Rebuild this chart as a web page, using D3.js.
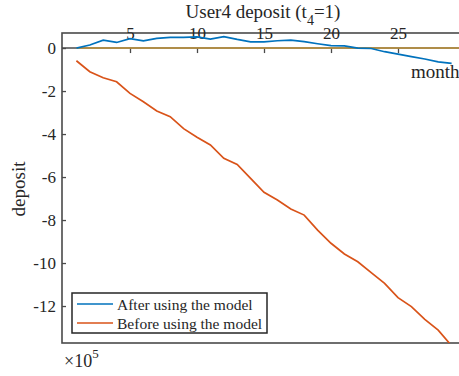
<!DOCTYPE html>
<html>
<head>
<meta charset="utf-8">
<style>
  body { margin: 0; background: #fff; }
  svg text { font-family: "Liberation Serif", "Times New Roman", serif; fill: #262626; }
</style>
</head>
<body>
<svg width="459" height="376"></svg>
<script src="https://d3js.org/d3.v7.min.js"></script>
<script>

    // months 1..29
    var months = d3.range(1, 30);
    var zeroMonths = d3.range(1, 31);

    // deposit values in units of 1e5
    var afterModel = [0, 0.14, 0.37, 0.26, 0.44, 0.33, 0.45, 0.5, 0.5, 0.52,
        0.42, 0.53, 0.4, 0.29, 0.29, 0.34, 0.37, 0.3, 0.2, 0.11,
        0.1, 0.0, -0.02, -0.17, -0.28, -0.4, -0.51, -0.64, -0.71];

    var beforeModel = [-0.59, -1.1, -1.38, -1.57, -2.11, -2.5, -2.93, -3.19, -3.75, -4.15,
        -4.51, -5.13, -5.41, -6.06, -6.71, -7.07, -7.49, -7.77, -8.47, -9.08,
        -9.58, -9.94, -10.45, -10.95, -11.61, -12.03, -12.62, -13.12, -13.85];

    var zeroLine = zeroMonths.map(function() { return 0; });

    var xTicks = [5, 10, 15, 20, 25];
    var yTicks = [-12, -10, -8, -6, -4, -2, 0];
    var legendLabels = ["After using the model", "Before using the model"];
    var colors = ["#0072BD", "#D95319", "#C2953A"];

    var serif = "'Liberation Serif', 'Times New Roman', serif";

    var svg = d3.select("svg"),
        margin = {top: 33, left: 62, right: 465, bottom: 343};

    var x = d3.scaleLinear().domain([0, 30]).range([63, 465]);
    var y = d3.scaleLinear().domain([-13.72, 0.7]).range([343, 33]);

    svg.append("clipPath").attr("id", "clip")
        .append("rect")
        .attr("x", margin.left).attr("y", margin.top)
        .attr("width", margin.right - margin.left)
        .attr("height", margin.bottom - margin.top);

    var axisColor = "#4a4a4a";

    // box
    svg.append("rect")
        .attr("x", margin.left).attr("y", margin.top)
        .attr("width", margin.right - margin.left)
        .attr("height", margin.bottom - margin.top)
        .attr("fill", "none")
        .attr("stroke", axisColor)
        .attr("stroke-width", 1.6);

    // y axis (ticks inward)
    var yAxis = svg.append("g")
        .attr("transform", "translate(" + margin.left + ",0)")
        .call(d3.axisLeft(y).tickValues(yTicks).tickSizeInner(-4).tickSizeOuter(0).tickPadding(6)
            .tickFormat(function(d) { return d < 0 ? "-" + Math.abs(d) : d; }))
        .attr("font-family", serif)
        .attr("font-size", 17);
    yAxis.select(".domain").remove();
    yAxis.selectAll("line").attr("stroke", axisColor).attr("stroke-width", 1.3);
    yAxis.selectAll("text").attr("fill", "#262626");

    // x axis at origin, labels above, ticks below
    svg.append("line")
        .attr("x1", margin.left).attr("x2", margin.right)
        .attr("y1", y(0)).attr("y2", y(0))
        .attr("stroke", axisColor)
        .attr("stroke-width", 1.6);

    var xAxis = svg.append("g")
        .attr("transform", "translate(0," + y(0) + ")")
        .call(d3.axisTop(x).tickValues(xTicks).tickSizeInner(-5).tickSizeOuter(0).tickPadding(9.5))
        .attr("font-family", serif)
        .attr("font-size", 17);
    xAxis.select(".domain").remove();
    xAxis.selectAll("line").attr("stroke", axisColor).attr("stroke-width", 1.3);
    xAxis.selectAll("text").attr("fill", "#262626");

    var line = d3.line()
        .x(function(d) { return x(d[0]); })
        .y(function(d) { return y(d[1]); });

    var plot = svg.append("g").attr("clip-path", "url(#clip)");

    plot.append("path")
        .datum(zeroMonths.map(function(m, i) { return [m, zeroLine[i]]; }))
        .attr("fill", "none")
        .attr("stroke", colors[2])
        .attr("stroke-width", 1.6)
        .attr("d", line);

    plot.append("path")
        .datum(months.map(function(m, i) { return [m, afterModel[i]]; }))
        .attr("fill", "none")
        .attr("stroke", colors[0])
        .attr("stroke-width", 1.7)
        .attr("d", line);

    plot.append("path")
        .datum(months.map(function(m, i) { return [m, beforeModel[i]]; }))
        .attr("fill", "none")
        .attr("stroke", colors[1])
        .attr("stroke-width", 1.7)
        .attr("d", line);

    // title
    var title = svg.append("text")
        .attr("x", 263).attr("y", 18)
        .attr("text-anchor", "middle")
        .style("font-size", "19px");
    title.append("tspan").text("User4 deposit (t");
    title.append("tspan").attr("dy", 7).style("font-size", "14px").text("4");
    title.append("tspan").attr("dy", -7).text("=1)");

    // axis labels
    svg.append("text")
        .attr("x", 411).attr("y", 78)
        .style("font-size", "19px")
        .text("month");

    svg.append("text")
        .attr("transform", "translate(25,189) rotate(-90)")
        .attr("text-anchor", "middle")
        .style("font-size", "19px")
        .text("deposit");

    // exponent
    var expo = svg.append("text")
        .attr("x", 64).attr("y", 367)
        .style("font-size", "18px");
    expo.append("tspan").text("\u00d710");
    expo.append("tspan").attr("dy", -9).style("font-size", "13px").text("5");

    // legend
    var legend = svg.append("g");
    legend.append("rect")
        .attr("x", 72).attr("y", 293)
        .attr("width", 195).attr("height", 40)
        .attr("fill", "#fff")
        .attr("stroke", "#262626")
        .attr("stroke-width", 1.5);

    legendLabels.forEach(function(lbl, i) {
        var ly = 304 + i * 19;
        legend.append("line")
            .attr("x1", 77).attr("x2", 113)
            .attr("y1", ly).attr("y2", ly)
            .attr("stroke", colors[i])
            .attr("stroke-width", 1.7);
        legend.append("text")
            .attr("x", 117).attr("y", ly + 5.5)
            .style("font-size", "15.5px")
            .text(lbl);
    });

</script>
</body>
</html>
